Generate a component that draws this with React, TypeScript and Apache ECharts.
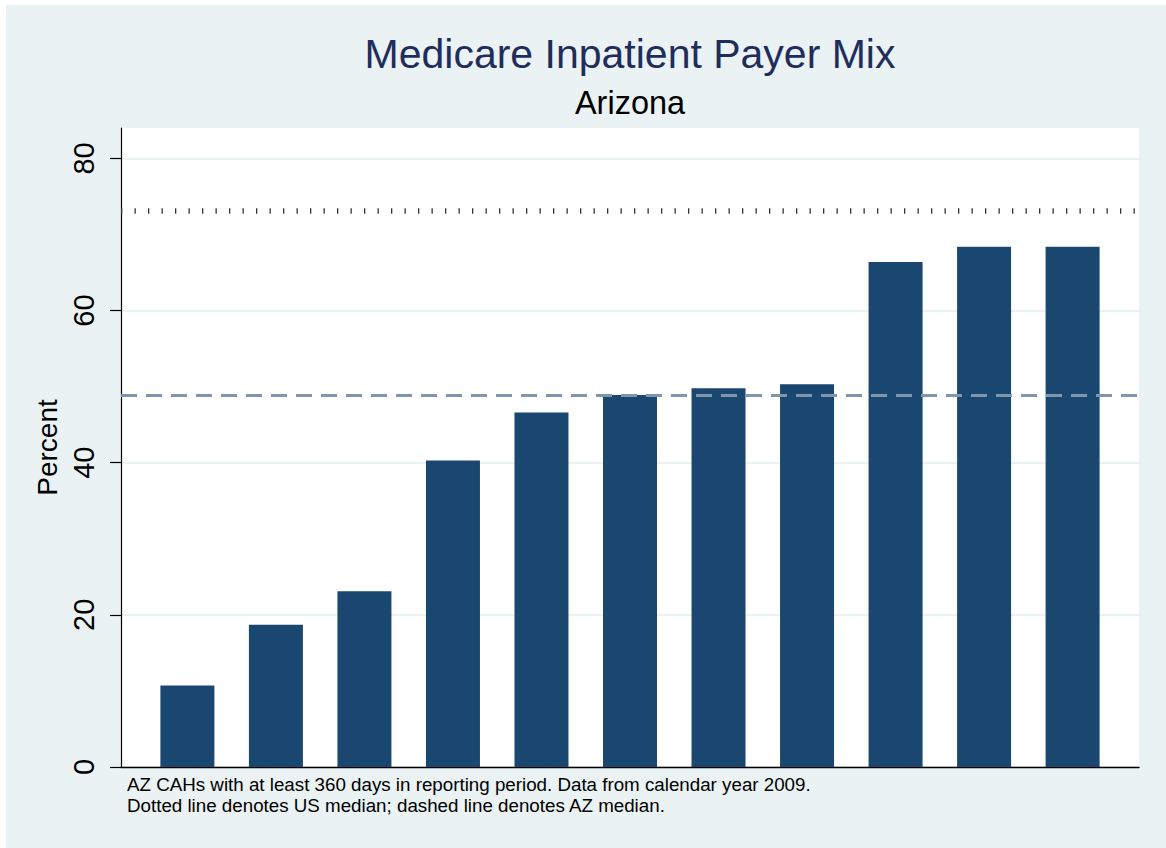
import React, { useEffect, useRef } from "react";
import * as echarts from "echarts";

// Critical access hospitals, sorted by Medicare share of inpatient days
const hospitalRank = [1, 2, 3, 4, 5, 6, 7, 8, 9, 10, 11];
const medicareShare = [10.7, 18.7, 23.1, 40.3, 46.6, 48.9, 49.8, 50.3, 66.4, 68.4, 68.4];
const usMedian = 73.1;
const azMedian = 48.9;
const yTicks = [0, 20, 40, 60, 80];

const titleText = "Medicare Inpatient Payer Mix";
const subtitleText = "Arizona";
const yAxisName = "Percent";
const noteLines = [
  "AZ CAHs with at least 360 days in reporting period. Data from calendar year 2009.",
  "Dotted line denotes US median; dashed line denotes AZ median.",
];

const FONT = '"Liberation Sans", Arial, Helvetica, sans-serif';

export default function App() {
  const ref = useRef<HTMLDivElement>(null);

  useEffect(() => {
    if (!ref.current) return;
    const chart = echarts.init(ref.current, undefined, { renderer: "svg" });
    const barData = hospitalRank.map((r, i) => [r - 1, medicareShare[i]]);

    chart.setOption({
      animation: false,
      backgroundColor: "#EAF2F3",
      textStyle: { fontFamily: FONT },
      grid: {
        left: 115,
        top: 123,
        right: 27,
        bottom: 81,
        show: true,
        backgroundColor: "#ffffff",
        borderWidth: 0,
      },
      xAxis: {
        type: "value",
        min: -0.75,
        max: 10.75,
        axisLine: { show: true, onZero: false, lineStyle: { color: "#000", width: 1.3 } },
        axisTick: { show: false },
        axisLabel: { show: false },
        splitLine: { show: false },
      },
      yAxis: {
        type: "value",
        min: 0,
        max: 84,
        interval: 20,
        name: yAxisName,
        nameLocation: "middle",
        nameGap: 52,
        nameRotate: 90,
        nameTextStyle: { fontSize: 28, color: "#000", fontFamily: FONT },
        axisLine: { show: true, onZero: false, lineStyle: { color: "#000", width: 1.2 } },
        axisTick: {
          show: true,
          length: 11,
          customValues: yTicks,
          lineStyle: { color: "#000", width: 1.2 },
        },
        axisLabel: {
          customValues: yTicks,
          rotate: 90,
          margin: 23,
          fontSize: 29,
          color: "#000",
          fontFamily: FONT,
        },
        splitLine: {
          show: true,
          lineStyle: { color: "#EAF2F3", width: 2 },
        },
      },
      graphic: [
        {
          type: "text",
          x: 624,
          y: 49,
          style: {
            text: titleText,
            fill: "#1f2d5c",
            fontSize: 41,
            fontFamily: FONT,
            align: "center",
            verticalAlign: "middle",
          },
        },
        {
          type: "text",
          x: 624,
          y: 97.5,
          style: {
            text: subtitleText,
            fill: "#000",
            fontSize: 32.5,
            fontFamily: FONT,
            align: "center",
            verticalAlign: "middle",
          },
        },
        ...noteLines.map((line, i) => ({
          type: "text",
          x: 121,
          y: 779.5 + i * 20.5,
          style: {
            text: line,
            fill: "#000",
            fontSize: 18.75,
            fontFamily: FONT,
            align: "left",
            verticalAlign: "middle",
          },
        })),
      ],
      series: [
        {
          type: "bar",
          data: barData,
          barWidth: 54,
          itemStyle: { color: "#1A476F" },
          silent: true,
          markLine: {
            silent: true,
            symbol: ["none", "none"],
            label: { show: false },
            emphasis: { disabled: true },
            data: [
              {
                yAxis: usMedian,
                lineStyle: { color: "#333", width: 5.5, type: [1.3, 12.2], dashOffset: 0 },
              },
              {
                yAxis: azMedian,
                lineStyle: { color: "#8096AE", width: 3, type: [16, 9] },
              },
            ],
          },
        },
      ],
    });

    return () => chart.dispose();
  }, []);

  return (
    <div
      ref={ref}
      style={{ position: "fixed", left: 6, top: 5, width: 1160, height: 843 }}
    />
  );
}
